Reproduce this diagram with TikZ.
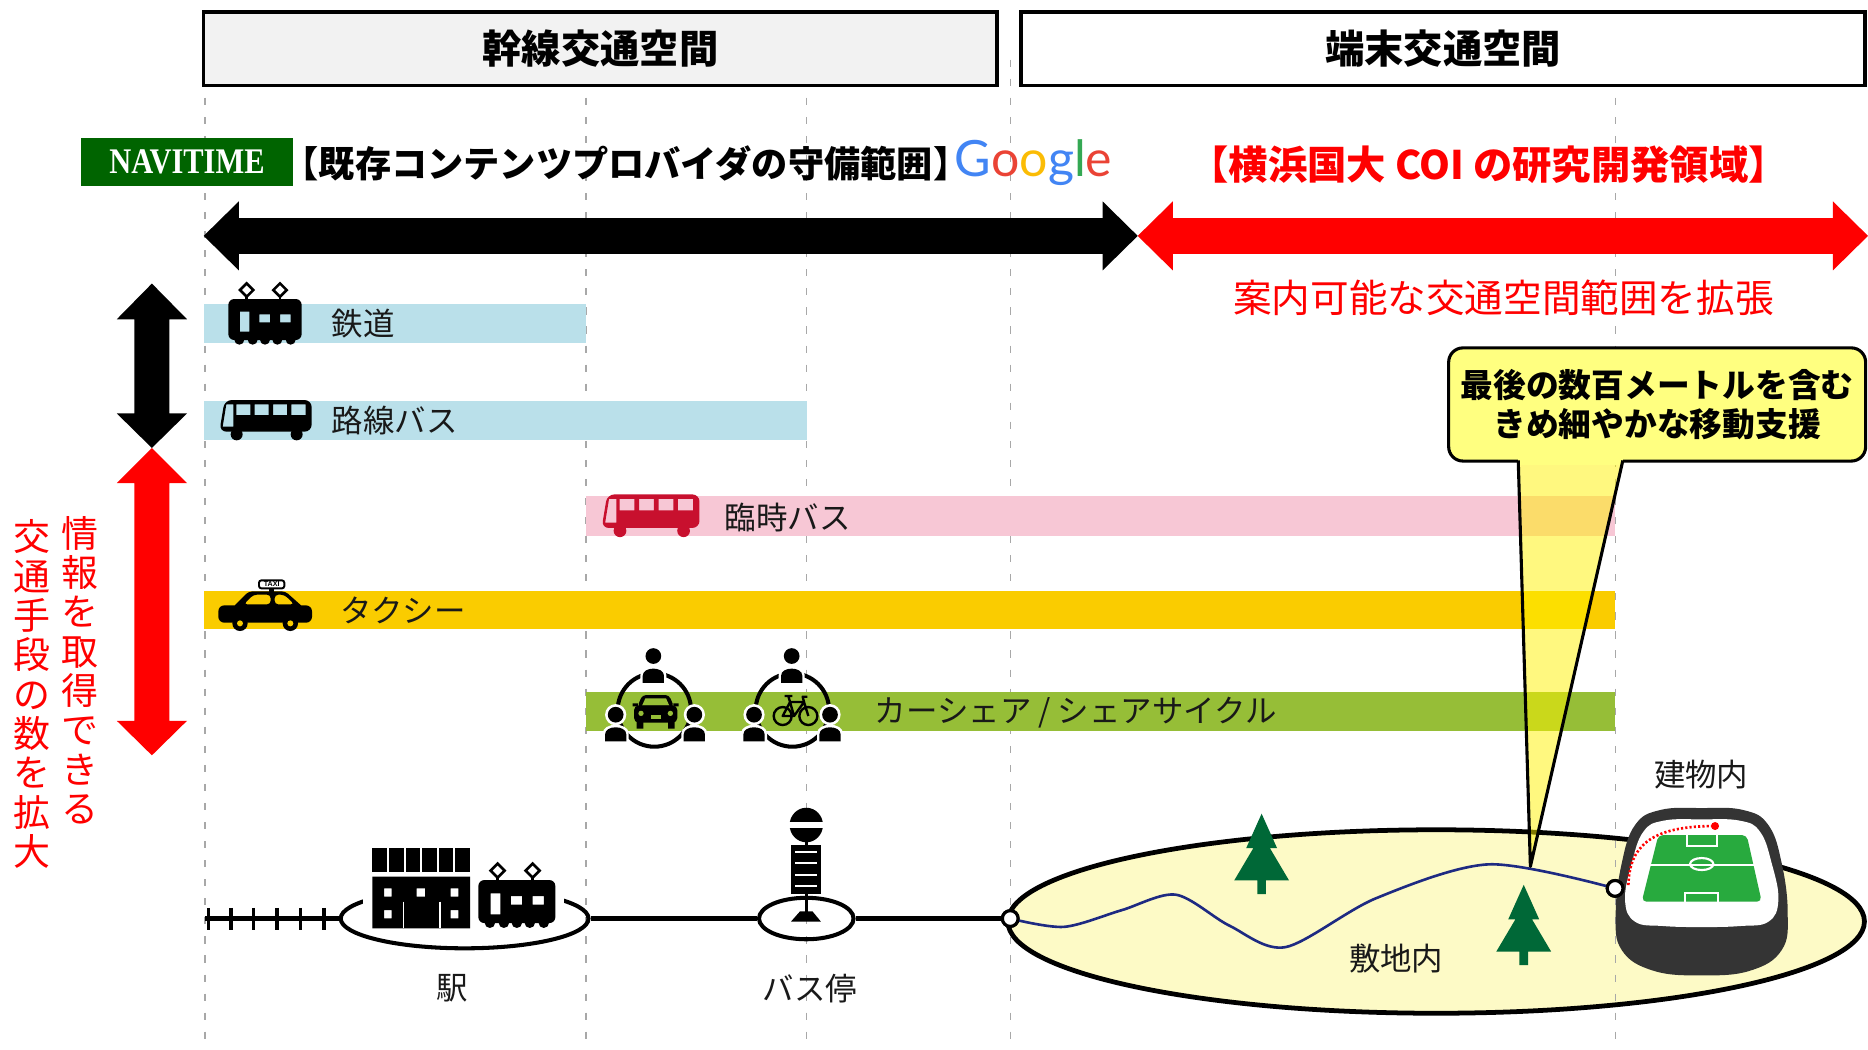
\documentclass[tikz,border=0pt]{standalone}
\usepackage{fontspec}
\usepackage{graphicx}
\usetikzlibrary{shapes.geometric}

\newfontfamily\jp{Noto Sans CJK JP}
\newfontfamily\logofont{Lato}
\newfontfamily\navfont{Liberation Serif}
\newfontfamily\signfont{Liberation Sans}

\definecolor{hdrgray}{RGB}{242,242,242}
\definecolor{navgreen}{RGB}{0,100,0}
\definecolor{gblue}{RGB}{66,133,244}
\definecolor{gred}{RGB}{234,67,53}
\definecolor{gyellow}{RGB}{251,188,5}
\definecolor{ggreen}{RGB}{52,168,83}
\definecolor{barblue}{RGB}{186,224,234}
\definecolor{barpink}{RGB}{247,199,213}
\definecolor{barorange}{RGB}{250,204,0}
\definecolor{bargreen}{RGB}{150,190,55}
\definecolor{busred}{RGB}{200,16,46}
\definecolor{guide}{RGB}{168,168,168}
\definecolor{sitefill}{RGB}{253,250,198}
\definecolor{treegreen}{RGB}{0,104,55}
\definecolor{pathblue}{RGB}{30,42,130}
\definecolor{standgray}{RGB}{52,52,52}
\definecolor{pitch}{RGB}{40,170,62}
\definecolor{calloutfill}{RGB}{255,255,128}
\definecolor{labeltext}{RGB}{25,25,25}

\tikzset{
  guideline/.style={draw=guide, line width=0.55pt, dash pattern=on 3pt off 5pt},
  headbox/.style={draw=black, line width=1.4pt, inner sep=0pt, minimum height=31pt,
    font=\jp\bfseries\fontsize{16.5}{18}\selectfont},
  lbl/.style={font=\jp\fontsize{13.2}{15}\selectfont, text=labeltext, inner sep=0pt},
  route/.style={line width=2.1pt},
  tie/.style={line width=1.4pt},
  stopring/.style={ellipse, draw=black, line width=1.7pt, inner sep=0pt},
  pathnode/.style={circle, draw=black, fill=white, line width=1.3pt, minimum size=6.6pt, inner sep=0pt},
  trainpic/.pic={
    \fill[even odd rule]
      [rounded corners=2.5pt] (0,123) -- (0,0) -- (220,0) -- (220,123) -- cycle
      [sharp corners] (35,38) rectangle (63,98)
      (93,46) rectangle (125,70)
      (155,46) rectangle (187,70);
    \foreach \wx in {33,73,110,147,187} \fill (\wx,122) circle (15);
    \foreach \px in {55,155} {
      \draw[line width=1.1pt, fill=white] (\px,-47) -- (\px+20,-27) -- (\px,-7) -- (\px-20,-27) -- cycle;
      \draw[line width=1.1pt] (\px,-7) -- (\px,0);
    }
  },
  buspic/.pic={
    \fill[#1, even odd rule]
      [rounded corners=3pt] (3,100) -- (19,5) -- (280,5) -- (280,100) -- cycle
      [sharp corners] (24,18) -- (45,18) -- (45,85) -- (13,85) -- cycle
      (54,18) rectangle (96,50)
      (109,18) rectangle (151,50)
      (164,18) rectangle (206,50)
      (219,18) rectangle (262,50);
    \fill[#1] (55,108) circle (18) (235,108) circle (18);
  },
  personpic/.pic={
    \fill[white] (0,0) circle (27);
    \fill[white] (-33,74) -- (-33,48) .. controls (-33,18) and (33,18) .. (33,48) -- (33,74) -- cycle;
    \fill[black] (0,0) circle (20);
    \fill[black] (-27,68) -- (-27,50) .. controls (-27,26) and (27,26) .. (27,50) -- (27,68) -- cycle;
  },
  treepic/.pic={
    \fill[treegreen] (0,0) -- (13,29) -- (7,29) -- (23,56) -- (3.6,56) -- (3.6,67.5)
      -- (-3.6,67.5) -- (-3.6,56) -- (-23,56) -- (-7,29) -- (-13,29) -- cycle;
  }
}

\begin{document}
\begin{tikzpicture}[x=0.5pt,y=-0.5pt]
\useasboundingbox (0,0) rectangle (1568,880.6);

% ground of the site (drawn first so the guides run over it)
\node[ellipse, draw=black, fill=sitefill, line width=2pt, inner sep=0pt,
      minimum width=359.5pt, minimum height=77pt] (site) at (1205.5,773.5) {};

% vertical guides
\foreach \gx in {172,492,677,848,1356}
  \draw[guideline] (\gx,50) -- (\gx,880.6);

% headers
\node[headbox, fill=hdrgray, minimum width=333pt] (hdrL) at (504,41) {\raisebox{-1pt}{幹線交通空間}};
\node[headbox, fill=white, minimum width=354.25pt] (hdrR) at (1211.25,41) {\raisebox{-1pt}{端末交通空間}};

% provider line
\node[fill=navgreen, text=white, inner sep=0pt, minimum width=89pt, minimum height=20.25pt,
      font=\navfont\bfseries\fontsize{13.75}{15}\selectfont] (navi) at (157,135.75)
  {\scalebox{0.93}[1.1]{NAVITIME}};
\node[font=\jp\bfseries\fontsize{15.2}{17}\selectfont, inner sep=0pt] (keeptitle) at (525.4,137.5)
  {【既存コンテンツプロバイダの守備範囲】};
\node[font=\logofont\fontsize{21}{22}\selectfont, inner sep=0pt, anchor=base west] (google) at (801,148)
  {\textcolor{gblue}{G}\textcolor{gred}{o}\textcolor{gyellow}{o}\textcolor{gblue}{g}\textcolor{ggreen}{l}\textcolor{gred}{e}};
\node[font=\jp\bfseries\fontsize{16.5}{18}\selectfont, text=red, inner sep=0pt] (cointitle) at (1249.5,138.5)
  {【横浜国大 COI の研究開発領域】};

% horizontal range arrows
\fill[black] (171,198) -- (200.5,169) -- (200.5,183) -- (925.5,183) -- (925.5,169) -- (955,198)
  -- (925.5,227) -- (925.5,213) -- (200.5,213) -- (200.5,227) -- cycle;
\fill[red] (955,198) -- (984.5,169) -- (984.5,183) -- (1538.5,183) -- (1538.5,169) -- (1568,198)
  -- (1538.5,227) -- (1538.5,213) -- (984.5,213) -- (984.5,227) -- cycle;
\node[font=\jp\fontsize{16.2}{18}\selectfont, text=red, inner sep=0pt] (expandtxt) at (1262,250)
  {案内可能な交通空間範囲を拡張};

% vertical range arrows
\fill[black] (127.5,238) -- (157,268) -- (142.2,268) -- (142.2,347) -- (157,347) -- (127.5,376)
  -- (98,347) -- (112.8,347) -- (112.8,268) -- (98,268) -- cycle;
\fill[red] (127.5,376) -- (157,405.5) -- (142.2,405.5) -- (142.2,605) -- (157,605) -- (127.5,634)
  -- (98,605) -- (112.8,605) -- (112.8,405.5) -- (98,405.5) -- cycle;
\node[font=\jp\fontsize{15.5}{16.5}\selectfont, text=red, inner sep=0pt, align=center, anchor=north]
  (vtxtR) at (67,433) {情\\報\\を\\取\\得\\で\\き\\る};
\node[font=\jp\fontsize{15.5}{16.5}\selectfont, text=red, inner sep=0pt, align=center, anchor=north]
  (vtxtL) at (27,436) {交\\通\\手\\段\\の\\数\\を\\拡\\大};

% mode bars
\fill[barblue] (171.5,255) rectangle (492,288);
\fill[barblue] (171.5,337) rectangle (677,369);
\fill[barpink] (492,416.5) rectangle (1356,450);
\fill[barorange] (171.5,496) rectangle (1356,528);
\fill[bargreen] (492,581) rectangle (1356,613.5);

% mode icons and names
\pic[scale=0.2798] at (191.66,250.99) {trainpic};
\pic[scale=0.2798] at (183.27,334.37) {buspic=black};
\pic[scale=0.2966] at (504.1,413.5) {buspic=busred};
\node[lbl, anchor=west] (lblRail) at (278,272) {鉄道};
\node[lbl, anchor=west] (lblLine) at (278,353) {路線バス};
\node[lbl, anchor=west] (lblTemp) at (608,434) {臨時バス};
\node[lbl, anchor=west] (lblTaxi) at (285,512) {タクシー};
\node[lbl, anchor=west] (lblShare) at (734,598) {カーシェア / シェアサイクル};

% taxi
\begin{scope}[shift={(167.88,478.47)}, scale=0.2798]
  \fill[rounded corners=2.5pt] (55,106) rectangle (336,158);
  \fill[even odd rule, rounded corners=1.5pt]
    (98,112) -- (146,64) -- (256,64) -- (310,112) -- cycle
    (131,103) -- (160,74) -- (212,74) -- (212,103) -- cycle
    (224,74) -- (253,74) -- (283,103) -- (224,103) -- cycle;
  \fill (207,54) rectangle (223,66);
  \draw[line width=0.8pt, fill=white, rounded corners=1pt] (177,31) rectangle (253,55);
  \node[font=\signfont\bfseries\fontsize{3}{3.5}\selectfont, inner sep=0pt] (taxisign) at (215,43.5) {TAXI};
  \foreach \wx in {120,271} {
    \fill (\wx,160) circle (23);
    \fill[barorange] (\wx,160) circle (9);
  }
\end{scope}

% car share and bike share
\begin{scope}[shift={(495.26,537.23)}, scale=0.2798]
  \draw[line width=1.7pt] (193,210) circle (110);
  \draw[line width=1.7pt] (607,210) circle (110);
  \foreach \cx/\cy in {190/48, 77/224, 313/224, 605/48, 492/224, 720/224}
    \pic[scale=0.33] at (\cx,\cy) {personpic};
  % car, front view
  \fill[rounded corners=1.5pt] (157,165) -- (237,165) -- (252,200) -- (142,200) -- cycle;
  \fill[bargreen] (166,175) -- (228,175) -- (238,197) -- (156,197) -- cycle;
  \fill (128,190) rectangle (144,199) (250,190) rectangle (266,199);
  \fill[rounded corners=2pt] (132,196) rectangle (262,248);
  \fill[bargreen] (153,220) circle (8) (241,220) circle (8);
  \fill[bargreen] (182,226) rectangle (212,236);
  \fill (140,244) rectangle (160,266) (234,244) rectangle (254,266);
  % bicycle
  \draw[line width=1pt] (578,228) circle (27) (655,228) circle (27);
  \draw[line width=1pt, line join=round]
    (578,228) -- (600,186) -- (612,228) -- cycle
    (600,186) -- (642,186) -- (612,228)
    (642,186) -- (655,228)
    (600,186) -- (595,168) (584,168) -- (607,168)
    (642,186) -- (638,170) -- (652,170);
\end{scope}

% route along the ground
\coordinate (trackstart) at (172,771);
\node[stopring, minimum width=104pt, minimum height=25pt] (station) at (390,771) {};
\node[stopring, minimum width=39.7pt, minimum height=17.4pt] (busstop) at (676.8,771) {};
\node[pathnode] (sl) at (848,771) {};
\draw[route] (trackstart) -- (station.west);
\foreach \tx in {175,194,213,232.5,252,272}
  \draw[tie] (\tx,762) -- (\tx,781);
\draw[route] (station.east) -- (busstop.west);
\draw[route] (busstop.east) -- (sl.west);

% station building and train
\fill[white] (305,704) rectangle (473,781);
\begin{scope}[shift={(302.19,671.54)}, scale=0.2798]
  \foreach \bx in {37,86.8,136.6,186.4,236.2,286} \fill (\bx,145) rectangle ++(43.8,70);
  \fill[even odd rule] (37,230) rectangle (330,385)
    (72,265) rectangle (95,290) (170,265) rectangle (195,290) (272,265) rectangle (295,290)
    (72,330) rectangle (95,355) (272,330) rectangle (295,355);
  \draw[white, line width=0.6pt] (130,305) -- (130,385) (240,305) -- (240,385);
\end{scope}
\pic[scale=0.2938] at (401.52,738.69) {trainpic};

% bus stop pole
\fill (676.8,692.5) ellipse [x radius=14, y radius=14.5];
\fill[white] (662,690.3) rectangle (692,694.7);
\fill (675.3,705) rectangle (678.3,710);
\fill (664.2,709.3) rectangle (688.8,750);
\foreach \ly in {714.9,724.7,734.5,743.7}
  \draw[white, line width=0.9pt] (667.5,\ly) -- (685.5,\ly);
\fill (675.3,749) rectangle (678.3,766);
\fill (671.5,765) -- (682,765) -- (689,773.5) -- (664,773.5) -- cycle;

\node[lbl] (lblStation) at (380,829.5) {駅};
\node[lbl] (lblStop) at (680,829.5) {バス停};

% inside the site: trees, path, stadium
\pic at (1059,683) {treepic};
\pic at (1279,742.7) {treepic};

\begin{scope}[shift={(1343.07,671.54)}, scale=0.2798]
  \fill[standgray] plot[smooth cycle, tension=0.7] coordinates {(305,24) (430,30) (505,75) (545,190)
    (563,340) (545,450) (450,512) (305,526) (160,512) (65,450) (47,340) (65,190) (105,75) (180,30)};
  \fill[white] plot[smooth cycle, tension=0.7] coordinates {(305,58) (420,62) (480,95) (515,190)
    (535,300) (505,365) (420,378) (305,381) (190,378) (105,365) (75,300) (95,190) (130,95) (190,62)};
  \fill[pitch, rounded corners=2pt] (175,105) -- (440,105) -- (485,305) -- (125,305) -- cycle;
  \draw[white, line width=0.9pt] (151,195) -- (461,195);
  \draw[white, line width=0.9pt] (305,192) ellipse [x radius=35, y radius=18];
  \draw[white, line width=0.9pt] (262,105) -- (262,138) -- (350,138) -- (350,105);
  \draw[white, line width=0.9pt] (255,305) -- (255,280) -- (355,280) -- (355,305);
  \draw[red, line width=1.1pt, dash pattern=on 0.9pt off 0.9pt] (85,255) .. controls (88,140) and (150,80) .. (335,78);
  \fill[red] (345,78) circle (12);
\end{scope}

\node[pathnode] (sr) at (1355.7,745.7) {};
\draw[pathblue, line width=1.1pt] plot[smooth, tension=0.5] coordinates
  {(sl.center) (893,778) (941.5,764) (987,751) (1032,777) (1079,795) (1155,754) (1250,725.5) (sr.center)};
\node[pathnode] at (sl) {};
\node[pathnode] at (sr) {};

\node[lbl] (lblSite) at (1172,804.5) {敷地内};
\node[lbl] (lblBldg) at (1428,650.5) {建物内};

% callout
\coordinate (ptip) at (1284.6,727.3);
\fill[yellow, fill opacity=0.5] (1274.4,386) -- (ptip) -- (1362.2,386) -- cycle;
\node[draw=black, fill=calloutfill, line width=1.3pt, rounded corners=6pt, inner sep=0pt,
      minimum width=175pt, minimum height=47.5pt, align=center,
      font=\jp\bfseries\fontsize{13.75}{16.5}\selectfont] (callout) at (1391,339.5)
  {最後の数百メートルを含む\\きめ細やかな移動支援};
\fill[calloutfill] (1274.4,383.5) rectangle (1362.2,390);
\draw[line width=1.3pt, line join=round] (1274.4,386.5) -- (ptip) -- (1362.2,386.5);

\end{tikzpicture}
\end{document}
